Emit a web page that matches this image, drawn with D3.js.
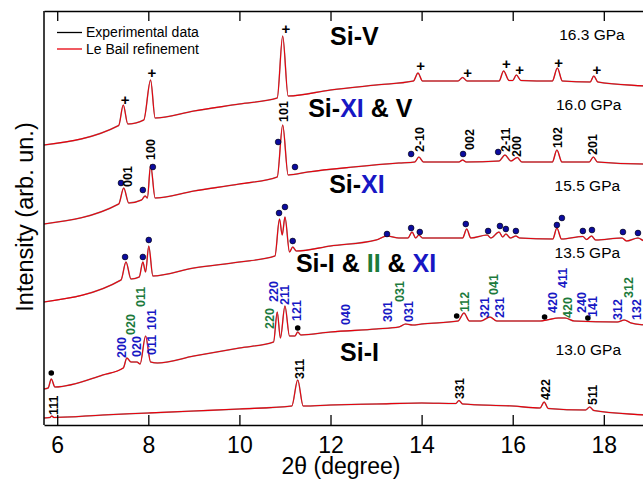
<!DOCTYPE html>
<html>
<head>
<meta charset="utf-8">
<script src="https://cdn.jsdelivr.net/npm/d3@7"></script>
<style>
  body { margin: 0; background: #fff; }
  svg { font-family: "Liberation Sans", Arial, Helvetica, sans-serif; }
</style>
</head>
<body>
<script>
// 2θ ticks
const xTicks = [6, 8, 10, 12, 14, 16, 18];

// patterns: [2θ, intensity (arb.)]
const p163 = [[5.71,280],[7.35,299.5],[7.45,320],[7.55,301],[7.9,305],[8.05,345],[8.15,307],[9.0,314],[10.0,321],
  [10.83,327],[10.95,389],[11.07,329],[12.0,335],[13.0,340],[13.82,344],[13.92,352],[14.02,344],[14.8,344],
  [14.9,347.5],[15.0,344],[15.7,344],[15.8,354],[15.92,344.5],[16.0,344.5],[16.08,350],[16.18,344.5],
  [16.87,344],[16.98,357],[17.09,344],[17.7,343],[17.78,349],[17.87,343],[18.9,339],[19.2,338]];
const p160 = [[5.71,201],[7.35,221],[7.46,237],[7.57,222],[7.85,225],[7.93,229],[7.98,227],[8.05,260],[8.15,227],
  [9.0,234],[10.0,241],[10.83,248],[10.95,300],[11.07,250],[11.5,253],[12.5,258],[13.5,262],[13.85,263],
  [13.94,268],[14.04,263],[14.82,263],[14.9,265],[14.98,263],[15.7,264],[15.83,270],[15.96,264],[16.1,267.5],
  [16.2,263],[16.87,263],[16.97,275],[17.08,263],[17.68,263],[17.77,268],[17.86,263],[18.9,261],[19.2,261]];
const p155 = [[5.71,123],[7.4,145],[7.51,163],[7.62,146],[7.8,148],[7.88,163],[7.94,153],[8.01,179],[8.1,149],
  [9.0,157],[10.0,163],[10.78,169],[10.88,206],[10.94,190],[11.0,208],[11.1,173],[11.17,178],[11.25,174],
  [12.0,179],[13.0,185],[13.24,189],[13.5,187],[13.7,187],[13.79,193],[13.87,187],[13.94,190],[14.02,187],
  [14.9,187],[14.99,196],[15.08,187],[15.44,190],[15.52,187],[15.7,193],[15.78,188],[15.85,191],[15.95,187],
  [16.07,189],[16.15,187],[16.88,186],[16.97,197],[17.07,186],[17.54,188.5],[17.62,185.5],[17.73,189],
  [17.82,185],[18.4,187],[18.5,184],[18.75,187],[18.9,184],[19.2,184]];
const p135 = [[5.71,36],[5.8,37],[5.87,46],[5.95,38],[7.0,50],[7.45,57],[7.53,67],[7.62,63],[7.75,63],[7.82,61],
  [7.94,89],[8.05,63],[8.2,62],[9.0,69],[10.0,77],[10.75,83],[10.83,113],[10.9,87],[11.0,119],[11.1,89],
  [11.22,89],[11.28,93],[11.35,90],[12.0,93],[13.0,96],[13.5,98],[13.65,101],[13.8,100],[14.0,101],[14.8,104],
  [14.93,112],[15.05,104],[15.3,104],[15.5,108],[15.65,104],[16.6,104],[16.75,105],[17.0,107],[17.15,107],
  [17.35,104],[18.3,103],[18.45,105],[18.6,102],[18.9,100],[19.2,99]];
const p130 = [[5.71,7],[5.84,7.5],[5.88,9],[5.93,7.5],[7.0,10],[8.0,12],[9.0,14],[10.0,16],[11.15,19],[11.28,45],
  [11.4,19],[12.0,20],[13.0,21],[14.0,22],[14.75,21.5],[14.82,24.5],[14.9,21],[16.0,19],[16.6,17],[16.69,23],
  [16.78,16.5],[17.6,15],[17.69,18],[17.78,14.5],[18.9,10],[19.2,9]];
const patterns = [p163, p160, p155, p135, p130];

// Si-V reflections (+)
const plusMarks = [[7.49,325],[8.08,352],[11.02,396],[13.98,359],[15.01,352],[15.86,361],[16.15,355],[17.01,362],[17.85,355]];
// Si-XI reflections (blue dots)
const xiDots = [[7.40,242],[7.88,235],[8.10,258],[10.85,283],[11.22,258],[13.77,271],[14.91,271],[15.68,273],
  [7.49,168],[7.88,168],[8.01,185],[10.87,212],[11.0,218],[11.17,184],[13.24,191],[13.77,197],[13.96,193],
  [14.97,201],[15.46,194],[15.72,199],[15.85,196],[16.07,194],[16.97,200],[17.08,207],[17.54,194],[17.74,195],
  [18.42,193],[18.75,192]];
// Si-I reflections (black dots)
const siDots = [[5.87,52],[11.28,97],[14.77,109],[16.7,108],[17.65,107]];

// hkl labels: [text, 2θ, intensity at text start, colour key]
const hklLabels = [
  ["001",7.55,238,"k"],["100",8.04,265,"k"],["101",10.96,303,"k"],["2-10",13.96,273,"k"],["002",15.06,275,"k"],
  ["2-11",15.85,273,"k"],["200",16.09,268,"k"],["102",16.99,277,"k"],["201",17.76,270,"k"],
  ["200",7.42,67,"b"],["020",7.60,90,"g"],["020",7.75,68,"b"],["011",7.82,118,"g"],["101",8.06,95,"b"],
  ["011",8.08,70,"b"],["220",10.65,96,"g"],["220",10.74,123,"b"],["211",11.0,120,"b"],["121",11.26,104,"b"],
  ["040",12.32,100,"b"],["301",13.26,103,"b"],["031",13.52,123,"g"],["031",13.72,103,"b"],["112",14.95,113,"g"],
  ["321",15.39,107,"b"],["041",15.57,130,"g"],["231",15.72,107,"b"],["420",16.88,112,"b"],["411",17.10,137,"b"],
  ["420",17.21,107,"g"],["240",17.52,112,"b"],["141",17.76,108,"b"],["312",18.31,105,"b"],["312",18.55,127,"g"],
  ["132",18.72,105,"b"],
  ["111",5.91,10,"k"],["311",11.33,46,"k"],["331",14.84,26,"k"],["422",16.71,25,"k"],["511",17.76,20,"k"]];

// phase names: [parts [text, colour key], 2θ, intensity]
const phaseLabels = [
  [[["Si-V","k"]],11.99,380],
  [[["Si-","k"],["XI","b"],[" & V","k"]],11.51,308],
  [[["Si-","k"],["XI","b"]],11.97,232],
  [[["Si-I & ","k"],["II","g"],[" & ","k"],["XI","b"]],11.24,153],
  [[["Si-I","k"]],12.21,64]];
const pressures = [["16.3 GPa",17.02,385],["16.0 GPa",16.95,315],["15.5 GPa",16.92,234],["13.5 GPa",16.92,167],["13.0 GPa",16.94,70]];

const colors = {k: "#000", b: "#1717c4", g: "#1c7a3c"};
const width = 643, height = 483;
const margin = {top: 11, left: 44, bottom: 58};

const x = d3.scaleLinear().domain([5.71, 19.2]).range([margin.left, margin.left + 13.49 * 45.55]);
const y = d3.scaleLinear().domain([0, 414]).range([height - margin.bottom, margin.top]);

const svg = d3.select("body").append("svg")
    .attr("width", width)
    .attr("height", height)
    .attr("viewBox", [0, 0, width, height]);

svg.append("clipPath").attr("id", "clip")
  .append("rect")
    .attr("x", margin.left).attr("y", margin.top)
    .attr("width", x.range()[1] - margin.left).attr("height", y.range()[0] - margin.top);

const line = d3.line()
    .x(d => x(d[0]))
    .y(d => y(d[1]))
    .curve(d3.curveMonotoneX);

const plot = svg.append("g").attr("clip-path", "url(#clip)");

// experimental (black) under the refinement (red)
plot.selectAll("path.exp")
  .data(patterns)
  .join("path")
    .attr("class", "exp")
    .attr("fill", "none")
    .attr("stroke", "#000")
    .attr("stroke-opacity", 0.4)
    .attr("stroke-width", 1.5)
    .attr("d", line);

plot.selectAll("path.fit")
  .data(patterns)
  .join("path")
    .attr("class", "fit")
    .attr("fill", "none")
    .attr("stroke", "#e8000b")
    .attr("stroke-width", 1.1)
    .attr("d", line);

// markers
svg.append("g").selectAll("text")
  .data(plusMarks)
  .join("text")
    .attr("x", d => x(d[0]))
    .attr("y", d => y(d[1]))
    .attr("dy", "0.33em")
    .attr("text-anchor", "middle")
    .attr("font-size", 15)
    .attr("font-weight", "bold")
    .text("+");

svg.append("g").selectAll("circle")
  .data(xiDots)
  .join("circle")
    .attr("cx", d => x(d[0]))
    .attr("cy", d => y(d[1]))
    .attr("r", 2.9)
    .attr("fill", "#0c0c9e")
    .attr("stroke", "#000")
    .attr("stroke-width", 0.6);

svg.append("g").selectAll("circle")
  .data(siDots)
  .join("circle")
    .attr("cx", d => x(d[0]))
    .attr("cy", d => y(d[1]))
    .attr("r", 2.8)
    .attr("fill", "#000");

// hkl labels, rotated
svg.append("g").selectAll("text")
  .data(hklLabels)
  .join("text")
    .attr("transform", d => `translate(${x(d[1])},${y(d[2])}) rotate(-90)`)
    .attr("dy", "0.36em")
    .attr("font-size", 12.5)
    .attr("font-weight", "bold")
    .attr("fill", d => colors[d[3]])
    .text(d => d[0]);

// phase names
const phase = svg.append("g").selectAll("text")
  .data(phaseLabels)
  .join("text")
    .attr("x", d => x(d[1]))
    .attr("y", d => y(d[2]))
    .attr("font-size", 25)
    .attr("font-weight", "bold");
phase.selectAll("tspan")
  .data(d => d[0])
  .join("tspan")
    .attr("fill", d => colors[d[1]])
    .text(d => d[0]);

svg.append("g").selectAll("text")
  .data(pressures)
  .join("text")
    .attr("x", d => x(d[1]))
    .attr("y", d => y(d[2]))
    .attr("font-size", 15.5)
    .text(d => d[0]);

// axes
const xAxisB = svg.append("g")
    .attr("transform", `translate(0,${y.range()[0]})`)
    .call(d3.axisBottom(x).tickValues(xTicks).tickSizeInner(-10).tickSizeOuter(0).tickPadding(12));
xAxisB.selectAll("text").attr("font-size", 23).attr("font-family", "Liberation Sans, Arial, sans-serif");

svg.append("g")
    .attr("transform", `translate(0,${margin.top})`)
    .call(d3.axisTop(x).tickValues(xTicks).tickSizeInner(-10).tickSizeOuter(0).tickFormat(""));

svg.selectAll(".domain").attr("stroke-width", 1.5);
svg.selectAll(".tick line").attr("stroke-width", 1.3);

svg.append("line")
    .attr("x1", margin.left).attr("x2", margin.left)
    .attr("y1", margin.top).attr("y2", y.range()[0])
    .attr("stroke", "#000")
    .attr("stroke-width", 1.5);

svg.append("text")
    .attr("transform", `translate(33,217) rotate(-90)`)
    .attr("text-anchor", "middle")
    .attr("font-size", 23.5)
    .text("Intensity (arb. un.)");

svg.append("text")
    .attr("x", 341)
    .attr("y", 474)
    .attr("text-anchor", "middle")
    .attr("font-size", 23)
    .text("2θ (degree)");

// legend
const legend = svg.append("g").attr("transform", "translate(57,32.5)");
[["Experimental data", "#000"], ["Le Bail refinement", "#e8000b"]].forEach(([label, c], i) => {
  const g = legend.append("g").attr("transform", `translate(0,${i * 16.5})`);
  g.append("line").attr("x1", 0).attr("x2", 25).attr("stroke", c).attr("stroke-width", 1.3);
  g.append("text").attr("x", 29).attr("dy", "0.35em").attr("font-size", 14).text(label);
});
</script>
</body>
</html>
